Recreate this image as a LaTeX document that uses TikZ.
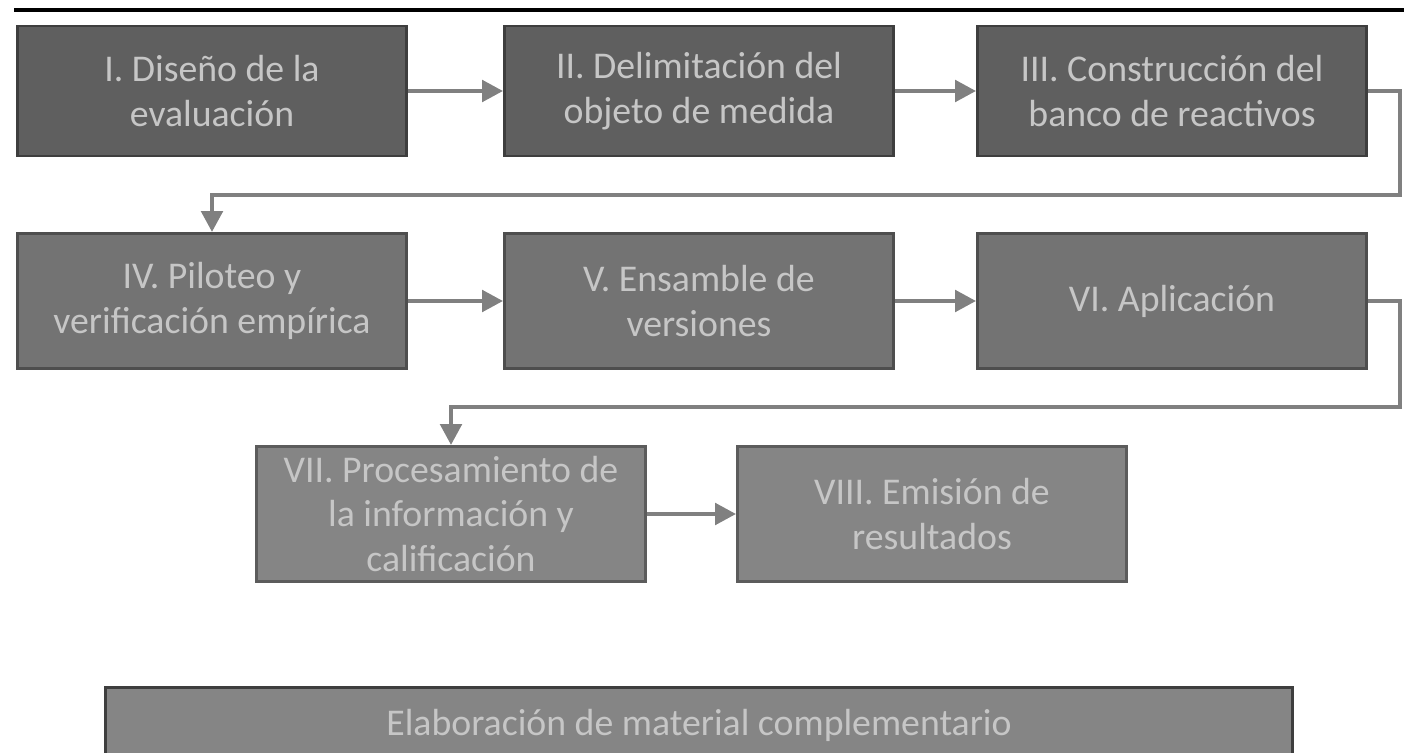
\documentclass[tikz,border=0pt]{standalone}
\usepackage{fontspec}
\setmainfont{Carlito}
\usetikzlibrary{arrows.meta}

\definecolor{fillA}{HTML}{5F5F5F}
\definecolor{fillB}{HTML}{737373}
\definecolor{fillC}{HTML}{858585}
\definecolor{edgeA}{HTML}{3E3E3E}
\definecolor{edgeB}{HTML}{4E4E4E}
\definecolor{edgeC}{HTML}{5C5C5C}
\definecolor{textgray}{HTML}{C6C6C6}
\definecolor{linkgray}{HTML}{808080}

\tikzset{
  stage/.style={draw, line width=1.6pt, text=textgray, align=center,
    minimum width=7.78cm, minimum height=2.66cm, inner sep=0pt,
    font=\fontsize{21.5}{25.5}\selectfont},
  link/.style={draw=linkgray, line width=2.8pt,
    -{Triangle[length=0.42cm, width=0.42cm]}},
}

\begin{document}
\begin{tikzpicture}[x=0.02cm, y=-0.02cm]

    % Fix the page to the reference frame
    \useasboundingbox (0,0) rectangle (1404,753);

    % Rule at the top
    \draw[line width=2pt] (14,10) -- (1404,10);

    % First row
    \node[stage, fill=fillA, draw=edgeA, minimum height=2.6cm] (dis) at (212,91)
        {I. Diseño de la\\evaluación};
    \node[stage, fill=fillA, draw=edgeA, minimum height=2.6cm] (del) at (699,91)
        {II. Delimitación del\\objeto de medida};
    \node[stage, fill=fillA, draw=edgeA, minimum height=2.6cm] (ban) at (1172,91)
        {III. Construcción del\\banco de reactivos};

    % Second row
    \node[stage, fill=fillB, draw=edgeB, minimum height=2.7cm] (pil) at (212,301)
        {IV. Piloteo y\\verificación empírica};
    \node[stage, fill=fillB, draw=edgeB, minimum height=2.7cm] (ens) at (699,301)
        {V. Ensamble de\\versiones};
    \node[stage, fill=fillB, draw=edgeB, minimum height=2.7cm] (apl) at (1172,301)
        {VI. Aplicación};

    % Third row
    \node[stage, fill=fillC, draw=edgeC, minimum height=2.7cm] (pro) at (451,514)
        {VII. Procesamiento de\\la información y\\calificación};
    \node[stage, fill=fillC, draw=edgeC, minimum height=2.7cm] (emi) at (932,514)
        {VIII. Emisión de\\resultados};

    % Complementary material
    \node[stage, fill=fillC, draw=edgeA, minimum width=23.76cm, minimum height=1.5cm]
        (mat) at (699,725) {Elaboración de material complementario};

    % Turning points of the return lines
    \coordinate (r1) at (1400,195);
    \coordinate (r2) at (1400,407);

    % Connectors
    \draw[link] (dis) -- (del);
    \draw[link] (del) -- (ban);
    \draw[link] (ban.east) -| (r1) -| (pil.north);
    \draw[link] (pil) -- (ens);
    \draw[link] (ens) -- (apl);
    \draw[link] (apl.east) -| (r2) -| (pro.north);
    \draw[link] (pro) -- (emi);

\end{tikzpicture}
\end{document}
